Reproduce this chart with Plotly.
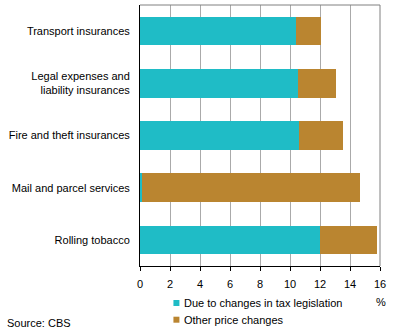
import plotly.graph_objects as go

categories = ["Transport insurances", "Legal expenses and<br>liability insurances",
              "Fire and theft insurances", "Mail and parcel services", "Rolling tobacco"]
tax_legislation = [10.4, 10.5, 10.6, 0.1, 12.0]
other_changes = [1.65, 2.55, 2.95, 14.55, 3.8]
series_names = ["Due to changes in tax legislation", "Other price changes"]
colors = ["#1FBCC6", "#BA8530"]
tick_vals = [0, 2, 4, 6, 8, 10, 12, 14, 16]

FONT = "Liberation Sans, Arial, sans-serif"

fig = go.Figure()
for name, vals, col in zip(series_names, [tax_legislation, other_changes], colors):
    fig.add_trace(go.Bar(y=categories, x=vals, orientation="h", name=name,
                         marker=dict(color=col, line=dict(width=0)), showlegend=False))

L, R, T, B = 139.5, 380, 5, 266
W, H = 396, 336
pw, ph = R - L, B - T
def px(x): return (x - L) / pw
def py(y): return (B - y) / ph

fig.update_layout(
    width=W, height=H, barmode="stack", bargap=0.45,
    margin=dict(l=L, r=W - R, t=T, b=H - B, autoexpand=False),
    paper_bgcolor="white", plot_bgcolor="white",
    font=dict(family=FONT, size=11, color="#000000"),
    xaxis=dict(range=[0, 16], tickvals=tick_vals, showgrid=True, gridcolor="#AAAAAA",
               gridwidth=1, showline=True, linecolor="#000000", linewidth=1,
               ticks="outside", ticklen=4, tickcolor="#000000", zeroline=False,
               ticklabelstandoff=4, tickfont=dict(size=11)),
    yaxis=dict(autorange="reversed", showline=True, linecolor="#000000", linewidth=1,
               ticks="", ticklabelstandoff=7, showgrid=False, tickfont=dict(size=11)),
)

# top and right frame
fig.add_shape(type="line", xref="paper", yref="paper", x0=0, x1=1, y0=1, y1=1,
              line=dict(color="#808080", width=1))
fig.add_shape(type="line", xref="paper", yref="paper", x0=1, x1=1, y0=0, y1=1,
              line=dict(color="#808080", width=1))

# legend
for i, (name, col) in enumerate(zip(series_names, colors)):
    cy = 303 + i * 16.7
    fig.add_shape(type="rect", xref="paper", yref="paper",
                  x0=px(173), x1=px(179), y0=py(cy + 3), y1=py(cy - 3),
                  fillcolor=col, line=dict(width=0))
    fig.add_annotation(xref="paper", yref="paper", x=px(182), y=py(cy), text=name,
                       showarrow=False, xanchor="left", yanchor="middle",
                       font=dict(size=11, color="#000000"))

fig.add_annotation(xref="paper", yref="paper", x=px(381), y=py(302), text="%",
                   showarrow=False, xanchor="center", yanchor="middle",
                   font=dict(size=11, color="#000000"))
fig.add_annotation(xref="paper", yref="paper", x=px(4), y=py(323), text="Source: CBS",
                   showarrow=False, xanchor="left", yanchor="middle",
                   font=dict(size=11, color="#000000"))

fig.write_html("out.html")
